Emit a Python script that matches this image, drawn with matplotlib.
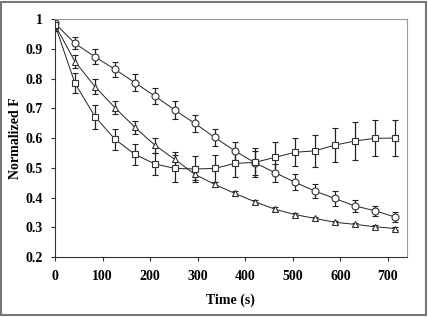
import matplotlib.pyplot as plt
import numpy as np
from matplotlib.patches import Rectangle
from matplotlib.ticker import FuncFormatter

# time points (s)
time_s = [0, 42, 84, 126, 168, 210, 252, 294, 336, 378, 420, 462, 504, 546, 588, 630, 672, 714]

# circles
circ = [0.985, 0.918, 0.873, 0.831, 0.786, 0.741, 0.694, 0.649, 0.602, 0.557, 0.517, 0.484,
        0.452, 0.422, 0.397, 0.372, 0.356, 0.335]
circ_err = [0.02, 0.02, 0.025, 0.025, 0.028, 0.028, 0.03, 0.03, 0.03, 0.03, 0.04, 0.03,
            0.027, 0.024, 0.024, 0.02, 0.017, 0.017]

# triangles
tri = [0.98, 0.857, 0.773, 0.702, 0.636, 0.576, 0.528, 0.478, 0.444, 0.414, 0.386, 0.361,
       0.343, 0.33, 0.317, 0.31, 0.302, 0.296]
tri_err = [0.02, 0.021, 0.025, 0.022, 0.022, 0.025, 0.025, 0.02, 0.008, 0.008, 0.007, 0.006,
           0.005, 0.005, 0.005, 0.005, 0.005, 0.005]

# squares
sq = [0.98, 0.784, 0.672, 0.596, 0.545, 0.513, 0.498, 0.496, 0.498, 0.515, 0.518, 0.535,
      0.552, 0.557, 0.576, 0.59, 0.599, 0.6]
sq_err = [0.02, 0.034, 0.04, 0.035, 0.035, 0.038, 0.045, 0.044, 0.046, 0.045, 0.05, 0.052,
          0.047, 0.054, 0.058, 0.065, 0.06, 0.06]

plt.rcParams['font.family'] = ['Liberation Serif', 'DejaVu Serif']

fig = plt.figure(figsize=(4.28, 3.17), dpi=100)
ax = fig.add_axes([0.1285, 0.189, 0.8215, 0.751])

series = [(circ, circ_err, 'o'), (tri, tri_err, '^'), (sq, sq_err, 's')]
for vals, errs, mk in series:
    ax.errorbar(time_s, vals, yerr=errs, fmt='-', color='#222222', lw=0.7,
                marker=mk, markersize=5, markerfacecolor='white', markeredgecolor='#333333',
                markeredgewidth=0.8, ecolor='#222222', elinewidth=0.9, capsize=2.5, capthick=0.9)

ax.set_xlim(0, 739)
ax.set_ylim(0.2, 1.0)
ax.set_xticks(np.arange(0, 701, 100))
ax.set_yticks(np.arange(0.2, 1.01, 0.1))
ax.yaxis.set_major_formatter(FuncFormatter(lambda v, p: '1' if abs(v - 1) < 1e-6 else f'{v:.1f}'))

for lab in ax.get_xticklabels() + ax.get_yticklabels():
    lab.set_fontweight('bold')
    lab.set_fontsize(10)
ax.tick_params(direction='out', length=3, width=0.8, color='#333333', pad=6)

ax.set_xlabel('Time (s)', fontsize=10, fontweight='bold', labelpad=8)
ax.set_ylabel('Normalized F', fontsize=10, fontweight='bold', labelpad=2)

ax.spines['left'].set_color('#333333')
ax.spines['bottom'].set_color('#333333')
ax.spines['top'].set_color('#999999')
ax.spines['right'].set_color('#999999')

# outer frame around the whole chart
fig.patches.append(Rectangle((0.003, 0.005), 0.993, 0.99, transform=fig.transFigure,
                             fill=False, edgecolor='#777777', lw=1.5))

fig.savefig('out.png', dpi=100)
